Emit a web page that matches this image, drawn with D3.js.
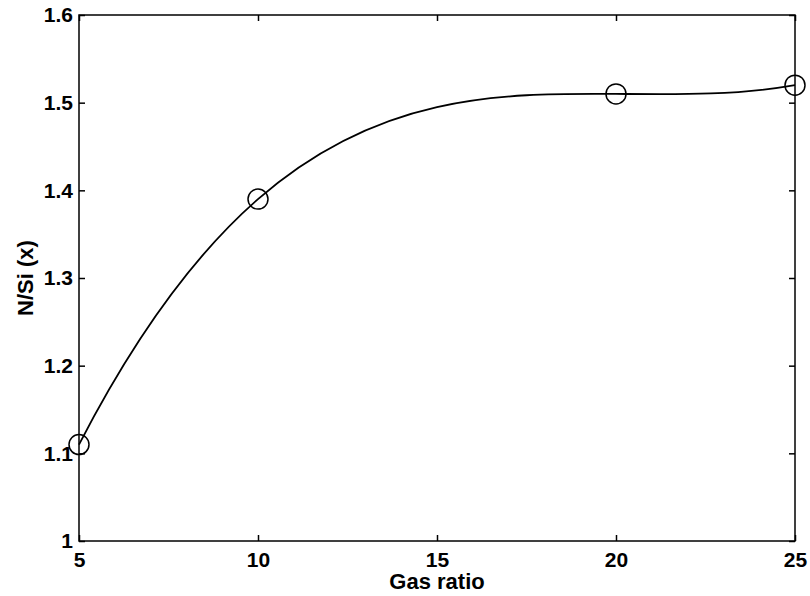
<!DOCTYPE html>
<html>
<head>
<meta charset="utf-8">
<script src="https://cdn.jsdelivr.net/npm/d3@7"></script>
<style>
  body { margin: 0; background: #fff; }
  text { font-family: "Liberation Sans", Arial, sans-serif; font-weight: bold; fill: #000; }
</style>
</head>
<body>
<script>
const width = 810;
const height = 596;
const margin = { left: 79, top: 15, right: 15, bottom: 55 };

// data
const gasRatio = [5, 10, 20, 25];
const nsi = [1.11, 1.39, 1.51, 1.52];
const xTicks = [5, 10, 15, 20, 25];
const yTicks = [1, 1.1, 1.2, 1.3, 1.4, 1.5, 1.6];

const x = d3.scaleLinear().domain([5, 25]).range([margin.left, width - margin.right]);
const y = d3.scaleLinear().domain([1, 1.6]).range([height - margin.bottom, margin.top]);

const svg = d3.select("body").append("svg")
    .attr("width", width)
    .attr("height", height);

// spline through the points (polynomial / not-a-knot with 4 points),
// written out as exact bezier pieces
function curveSpline(context) {
  let pts = [];
  return {
    areaStart() {}, areaEnd() {},
    lineStart() { pts = []; },
    point(px, py) { pts.push([px, py]); },
    lineEnd() {
      const n = pts.length;
      if (!n) return;
      const xs = pts.map(p => p[0]), ys = pts.map(p => p[1]);
      const slope = xs.map((xj, j) => {
        let s = 0;
        for (let i = 0; i < n; i++) {
          let li;
          if (i === j) {
            li = 0;
            for (let k = 0; k < n; k++) if (k !== j) li += 1 / (xj - xs[k]);
          } else {
            let num = 1, den = 1;
            for (let k = 0; k < n; k++) {
              if (k !== i && k !== j) num *= (xj - xs[k]);
              if (k !== i) den *= (xs[i] - xs[k]);
            }
            li = num / den;
          }
          s += ys[i] * li;
        }
        return s;
      });
      context.moveTo(xs[0], ys[0]);
      for (let i = 0; i < n - 1; i++) {
        const h = (xs[i + 1] - xs[i]) / 3;
        context.bezierCurveTo(xs[i] + h, ys[i] + slope[i] * h,
                              xs[i + 1] - h, ys[i + 1] - slope[i + 1] * h,
                              xs[i + 1], ys[i + 1]);
      }
    }
  };
}

const pts = gasRatio.map((g, i) => [g, nsi[i]]);

svg.append("path")
    .datum(pts)
    .attr("d", d3.line().x(d => x(d[0])).y(d => y(d[1])).curve(curveSpline))
    .attr("fill", "none")
    .attr("stroke", "#000")
    .attr("stroke-width", 1.8);

svg.selectAll(".pt")
    .data(pts)
    .join("circle")
    .attr("cx", d => x(d[0]))
    .attr("cy", d => y(d[1]))
    .attr("r", 10)
    .attr("fill", "none")
    .attr("stroke", "#000")
    .attr("stroke-width", 1.5);

// axes, ticks pointing inwards
const fmt = d3.format("~f");
const gx = svg.append("g")
    .attr("transform", `translate(0,${height - margin.bottom})`)
    .call(d3.axisBottom(x).tickValues(xTicks).tickFormat(fmt).tickSize(-6).tickPadding(11));
const gy = svg.append("g")
    .attr("transform", `translate(${margin.left},0)`)
    .call(d3.axisLeft(y).tickValues(yTicks).tickFormat(fmt).tickSize(-6).tickPadding(6));
svg.append("g")
    .attr("transform", `translate(0,${margin.top})`)
    .call(d3.axisTop(x).tickValues(xTicks).tickFormat("").tickSize(-6));
svg.append("g")
    .attr("transform", `translate(${width - margin.right},0)`)
    .call(d3.axisRight(y).tickValues(yTicks).tickFormat("").tickSize(-6));

svg.selectAll(".domain").remove();
svg.selectAll(".tick line").attr("stroke", "#000").attr("stroke-width", 1.5);
svg.selectAll(".tick text").attr("font-size", 21).attr("font-family", null);

svg.append("rect")
    .attr("x", margin.left)
    .attr("y", margin.top)
    .attr("width", width - margin.left - margin.right)
    .attr("height", height - margin.top - margin.bottom)
    .attr("fill", "none")
    .attr("stroke", "#000")
    .attr("stroke-width", 1.5);

svg.append("text")
    .attr("x", (margin.left + width - margin.right) / 2)
    .attr("y", 589)
    .attr("text-anchor", "middle")
    .attr("font-size", 22)
    .text("Gas ratio");

svg.append("text")
    .attr("transform", `translate(33,${y(1.3)}) rotate(-90)`)
    .attr("text-anchor", "middle")
    .attr("font-size", 22)
    .text("N/Si (x)");
</script>
</body>
</html>
